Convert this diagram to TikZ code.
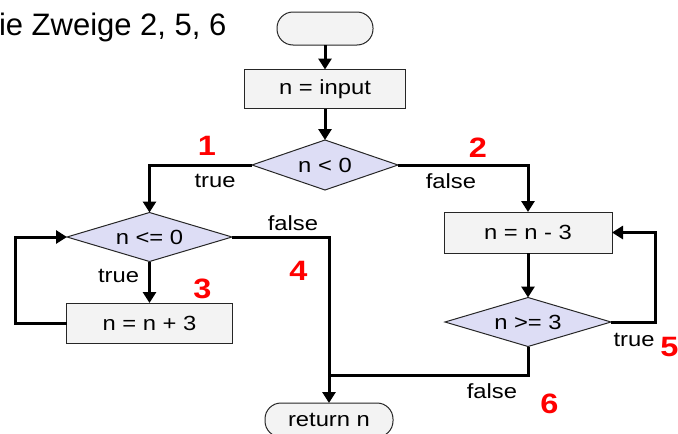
\documentclass[tikz,border=0pt]{standalone}
\usepackage{fontspec}
\setmainfont{Liberation Sans}[FakeStretch=1.16]
\newfontfamily\titlefont{Liberation Sans}
\usetikzlibrary{shapes.geometric,arrows.meta}
\definecolor{boxfill}{HTML}{F3F3F3}
\definecolor{diafill}{HTML}{DDDDF5}
\definecolor{numred}{HTML}{FF0000}
\begin{document}
\begin{tikzpicture}[x=1pt,y=-1pt,
  every node/.style={font=\fontsize{20.5}{24}\selectfont, inner sep=0pt, outer sep=0pt},
  termbox/.style={draw=black!85, line width=1pt, fill=boxfill, rectangle, rounded corners=16pt},
  procbox/.style={draw=black!85, line width=1pt, fill=boxfill, rectangle},
  decbox/.style={draw=black!85, line width=1pt, fill=diafill, diamond, aspect=3},
  conn/.style={line width=3pt, -{Triangle[width=13pt,length=11pt]}},
  plainconn/.style={line width=3pt},
  lbl/.style={anchor=base},
  numlbl/.style={anchor=base, font=\fontsize{28}{30}\selectfont\bfseries, text=numred}]
\useasboundingbox (0,0) rectangle (678,434);

\node[anchor=base west, font=\titlefont\fontsize{31}{34}\selectfont] (title) at (-1,35) {ie Zweige 2, 5, 6};

\node[termbox, minimum width=96pt, minimum height=33pt] (start) at (325,28.5) {};
\node[procbox, minimum width=161pt, minimum height=39pt] (input) at (325,89) {n = input};
\node[decbox, minimum width=146pt, minimum height=50pt] (lt0) at (325,165) {n < 0};
\node[decbox, minimum width=165pt, minimum height=49pt] (le0) at (149.5,237) {n <= 0};
\node[procbox, minimum width=166pt, minimum height=40pt] (plus3) at (149.5,323) {n = n + 3};
\node[procbox, minimum width=168pt, minimum height=41pt] (minus3) at (528,232.5) {n = n - 3};
\node[decbox, minimum width=166pt, minimum height=49pt] (ge3) at (528,322) {n >= 3};
\node[termbox, minimum width=128pt, minimum height=34pt] (ret) at (329,420) {return n};

\coordinate (loopL) at (15,323);
\coordinate (loopR) at (655,322);
\coordinate (merge) at (329,375);

\draw[conn] (start) -- (input);
\draw[conn] (input) -- (lt0);
\draw[conn] (lt0.west) -| (le0.north);
\draw[conn] (lt0.east) -| (minus3.north);
\draw[conn] (le0.south) -- (plus3.north);
\draw[conn] (plus3.west) -- (loopL) |- (le0.west);
\draw[conn] (le0.east) -| (ret.north);
\draw[conn] (minus3.south) -- (ge3.north);
\draw[conn] (ge3.east) -- (loopR) |- (minus3.east);
\draw[plainconn] (ge3.south) |- (merge);

\node[lbl] (t1) at (215,187) {true};
\node[lbl] (f2) at (451,188) {false};
\node[lbl] (f4) at (293,230) {false};
\node[lbl] (t3) at (118.5,282) {true};
\node[lbl] (t5) at (634,346) {true};
\node[lbl] (f6) at (492,398) {false};

\node[numlbl] (n1) at (207,155) {1};
\node[numlbl] (n2) at (478,157) {2};
\node[numlbl] (n3) at (202.5,298) {3};
\node[numlbl] (n4) at (298.5,280) {4};
\node[numlbl] (n5) at (669.5,356) {5};
\node[numlbl] (n6) at (549.5,413) {6};
\end{tikzpicture}
\end{document}
